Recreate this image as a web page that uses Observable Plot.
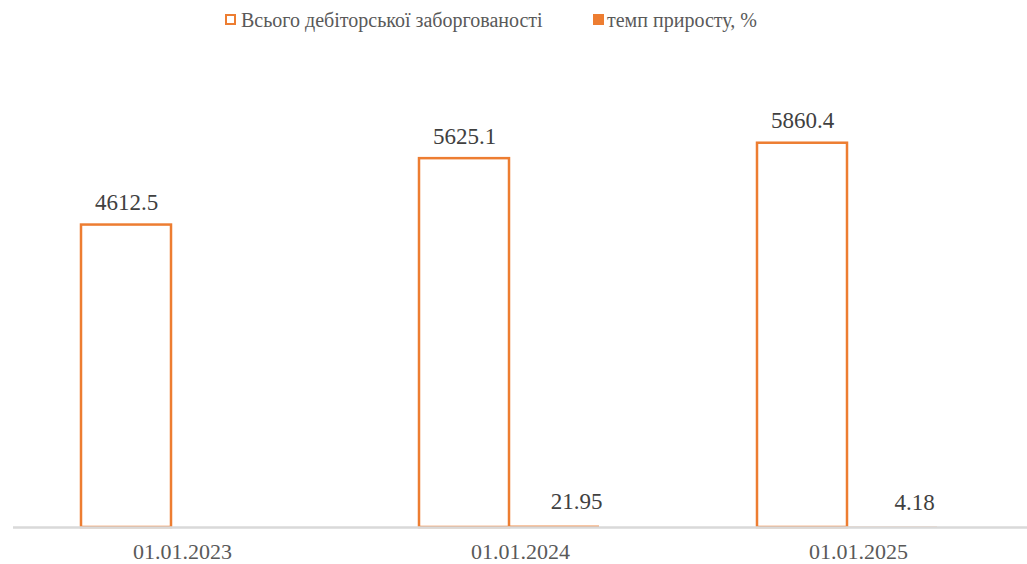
<!DOCTYPE html>
<html><head><meta charset="utf-8">
<script src="https://cdn.jsdelivr.net/npm/d3@7"></script>
<script src="https://cdn.jsdelivr.net/npm/@observablehq/plot@0.6"></script>
<style>
body{margin:0;background:#fff;font-family:"Liberation Serif","Times New Roman",serif;}
#legend{height:40px;position:relative;font-size:20px;color:#595959;}
#legend .sw{position:absolute;top:14px;width:11px;height:11px;box-sizing:border-box;}
#legend .lt{position:absolute;top:9px;line-height:23px;white-space:nowrap;}
#chart svg{display:block;}
</style></head><body>
<div id="legend"></div><div id="chart"></div>
<script>
const dates = ["01.01.2023", "01.01.2024", "01.01.2025"];
const seriesNames = ["Всього дебіторської заборгованості", "темп приросту, %"];
const totalValues = [4612.5, 5625.1, 5860.4];
const growthValues = [null, 21.95, 4.18];
const orange = "#ED7D31";

const totalRows = dates.map((d, i) => ({date: d, series: seriesNames[0], value: totalValues[i]}));
const growthRows = dates.map((d, i) => ({date: d, series: seriesNames[1], value: growthValues[i]})).filter(r => r.value != null);

// legend
const legend = document.getElementById("legend");
legend.innerHTML = `
  <span class="sw" style="left:225px;border:2px solid ${orange};background:#fff"></span>
  <span class="lt" style="left:241px">${seriesNames[0]}</span>
  <span class="sw" style="left:593px;background:${orange}"></span>
  <span class="lt" style="left:607px">${seriesNames[1]}</span>`;

const chart = Plot.plot({
  width: 1027,
  height: 524,
  marginLeft: 13,
  marginRight: 0,
  marginTop: 28,
  marginBottom: 37,
  style: {fontFamily: "Liberation Serif, Times New Roman, serif", fontSize: "22px", background: "#fff"},
  fx: {domain: dates, padding: 0, label: null, axis: null},
  x: {domain: seriesNames, range: [80.5, 261.5], padding: 0, axis: null},
  y: {domain: [0, 7000], axis: null},
  marks: [
    Plot.barY(totalRows, {fx: "date", x: "series", y: "value", fill: "#fff", stroke: orange, strokeWidth: 2.5, inset: 0}),
    Plot.barY(growthRows, {fx: "date", x: "series", y: "value", fill: orange, inset: 0}),
    Plot.ruleY([0], {stroke: "#d9d9d9", strokeWidth: 2.5}),
    Plot.text(totalRows, {fx: "date", x: "series", y: "value", text: d => d.value.toFixed(1), dy: -15, lineAnchor: "bottom", fontSize: 23, fill: "#404040"}),
    Plot.text(growthRows, {fx: "date", x: "series", y: "value", text: d => d.value.toFixed(2), dx: 22, dy: -17, lineAnchor: "bottom", fontSize: 23, fill: "#404040"}),
    Plot.axisFx({domain: dates, anchor: "bottom", tickSize: 0, tickPadding: 16, fontSize: 22, fill: "#595959", label: null})
  ]
});
document.getElementById("chart").appendChild(chart);
</script>
</body></html>
